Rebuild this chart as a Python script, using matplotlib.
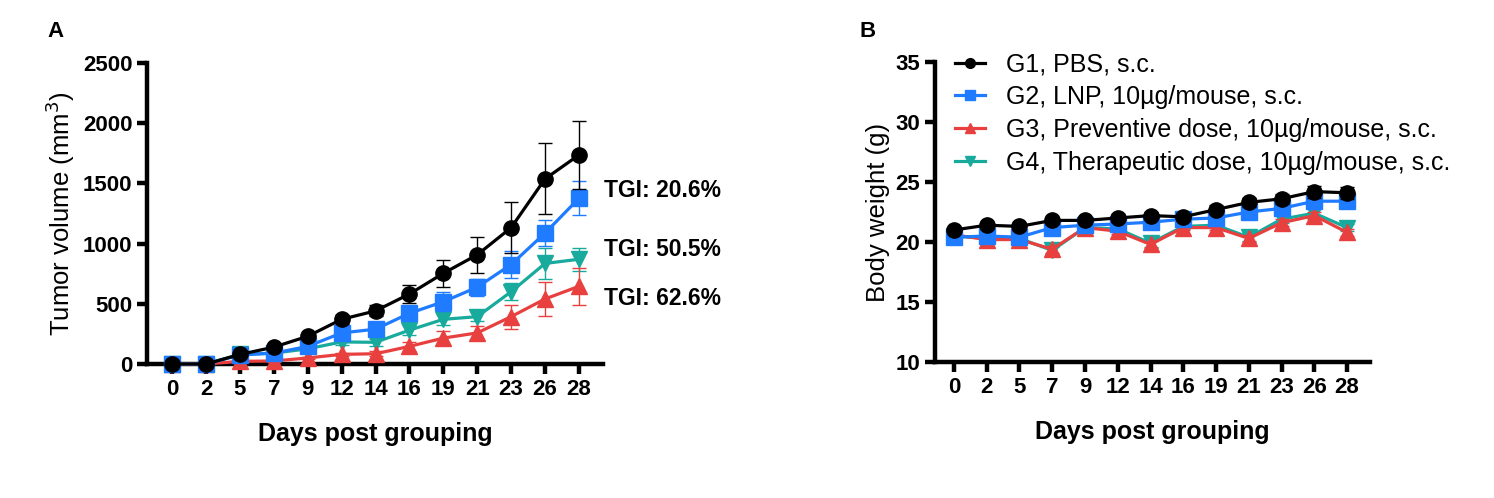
import matplotlib.pyplot as plt
from matplotlib.lines import Line2D
import numpy as np

plt.rcParams['font.family'] = ['Liberation Sans', 'DejaVu Sans']

days = ['0', '2', '5', '7', '9', '12', '14', '16', '19', '21', '23', '26', '28']
groups = ['G1, PBS, s.c.',
          'G2, LNP, 10µg/mouse, s.c.',
          'G3, Preventive dose, 10µg/mouse, s.c.',
          'G4, Therapeutic dose, 10µg/mouse, s.c.']
colors = ['#000000', '#1f7bff', '#e8403f', '#17aa9d']
markers = ['o', 's', '^', 'v']
zorders = [6, 5, 4, 3]

# tumor volume (mm3), mean and error
vol_g1 = [0, 0, 79, 140, 230, 371, 441, 581, 753, 907, 1132, 1537, 1736]
vol_g2 = [0, 0, 75, 90, 146, 258, 289, 421, 517, 638, 826, 1087, 1376]
vol_g3 = [0, 0, 22, 25, 50, 80, 85, 146, 215, 258, 393, 540, 645]
vol_g4 = [0, 0, 80, 90, 126, 183, 180, 281, 371, 393, 600, 835, 870]
vol_e1 = [0, 0, 10, 15, 20, 40, 45, 75, 110, 150, 210, 295, 280]
vol_e2 = [0, 0, 8, 10, 15, 30, 30, 50, 80, 70, 110, 110, 140]
vol_e3 = [0, 0, 5, 8, 10, 15, 20, 40, 55, 60, 100, 140, 155]
vol_e4 = [0, 0, 8, 10, 15, 25, 30, 40, 45, 40, 70, 125, 95]

# body weight (g), mean and error
bw_g1 = [21.0, 21.4, 21.3, 21.8, 21.8, 22.0, 22.2, 22.1, 22.7, 23.3, 23.6, 24.2, 24.1]
bw_g2 = [20.4, 20.5, 20.4, 21.2, 21.4, 21.5, 21.65, 21.9, 22.0, 22.5, 22.8, 23.4, 23.4]
bw_g3 = [20.6, 20.2, 20.2, 19.4, 21.2, 20.9, 19.8, 21.2, 21.2, 20.3, 21.6, 22.2, 20.8]
bw_g4 = [20.5, 20.3, 20.3, 19.3, 21.2, 21.1, 19.9, 21.3, 21.4, 20.4, 21.9, 22.4, 21.2]
bw_e1 = [0.2, 0.3, 0.3, 0.3, 0.3, 0.3, 0.3, 0.3, 0.4, 0.4, 0.4, 0.5, 0.5]
bw_e2 = [0.2, 0.2, 0.2, 0.2, 0.2, 0.2, 0.2, 0.2, 0.3, 0.3, 0.3, 0.4, 0.4]
bw_e3 = [0.2, 0.2, 0.2, 0.3, 0.2, 0.2, 0.3, 0.2, 0.2, 0.3, 0.3, 0.3, 0.3]
bw_e4 = [0.2, 0.2, 0.2, 0.3, 0.2, 0.2, 0.3, 0.2, 0.2, 0.3, 0.3, 0.4, 0.3]

tgi_labels = ['TGI: 20.6%', 'TGI: 50.5%', 'TGI: 62.6%']
tgi_y = [1445, 947, 548]

x = np.arange(len(days))

fig = plt.figure(figsize=(14.94, 4.98), dpi=100)
axA = fig.add_axes([0.0984, 0.2691, 0.3052, 0.6044])
axB = fig.add_axes([0.6258, 0.2731, 0.2912, 0.6024])


def style_axis(ax):
    for s in ['top', 'right']:
        ax.spines[s].set_visible(False)
    for s in ['left', 'bottom']:
        ax.spines[s].set_linewidth(3.2)
    ax.tick_params(axis='both', direction='out', length=7, width=3.2,
                   labelsize=16)
    for lab in ax.get_xticklabels() + ax.get_yticklabels():
        lab.set_fontweight('bold')


vols = [vol_g1, vol_g2, vol_g3, vol_g4]
verr = [vol_e1, vol_e2, vol_e3, vol_e4]
for i in range(4):
    axA.errorbar(x, vols[i], yerr=verr[i], color=colors[i], marker=markers[i],
                 markersize=11, lw=2.3, elinewidth=1, capsize=5, capthick=1,
                 zorder=zorders[i], clip_on=False)
axA.set_xlim(-0.74, 12.71)
axA.set_ylim(0, 2500)
axA.set_yticks([0, 500, 1000, 1500, 2000, 2500])
axA.set_xticks(x)
axA.set_xticklabels(days)
style_axis(axA)
axA.set_ylabel('Tumor volume (mm$^3$)', fontsize=18.5, labelpad=4)
axA.set_xlabel('Days post grouping', fontsize=18, fontweight='bold', labelpad=16)
for t, yv in zip(tgi_labels, tgi_y):
    axA.text(12.75, yv, t, fontsize=16.5, fontweight='bold', va='center', ha='left')

bws = [bw_g1, bw_g2, bw_g3, bw_g4]
berr = [bw_e1, bw_e2, bw_e3, bw_e4]
handles = []
for i in range(4):
    axB.errorbar(x, bws[i], yerr=berr[i], color=colors[i], marker=markers[i],
                 markersize=11, lw=2.3, elinewidth=1, capsize=5, capthick=1,
                 zorder=zorders[i])
    handles.append(Line2D([], [], color=colors[i], marker=markers[i],
                          markersize=7, lw=2.3))
axB.set_xlim(-0.58, 12.70)
axB.set_ylim(10, 35)
axB.set_yticks([10, 15, 20, 25, 30, 35])
axB.set_xticks(x)
axB.set_xticklabels(days)
style_axis(axB)
axB.set_ylabel('Body weight (g)', fontsize=18.5, labelpad=4)
axB.set_xlabel('Days post grouping', fontsize=18, fontweight='bold', labelpad=16)
axB.legend(handles=handles, labels=groups, loc='upper left',
           bbox_to_anchor=(0.6306, 0.92), bbox_transform=fig.transFigure,
           frameon=False, fontsize=18, handlelength=1.2,
           handletextpad=0.85, labelspacing=0.35, borderpad=0)

fig.text(0.032, 0.925, 'A', fontsize=16, fontweight='bold')
fig.text(0.575, 0.925, 'B', fontsize=16, fontweight='bold')

fig.savefig('out.png', dpi=100)
